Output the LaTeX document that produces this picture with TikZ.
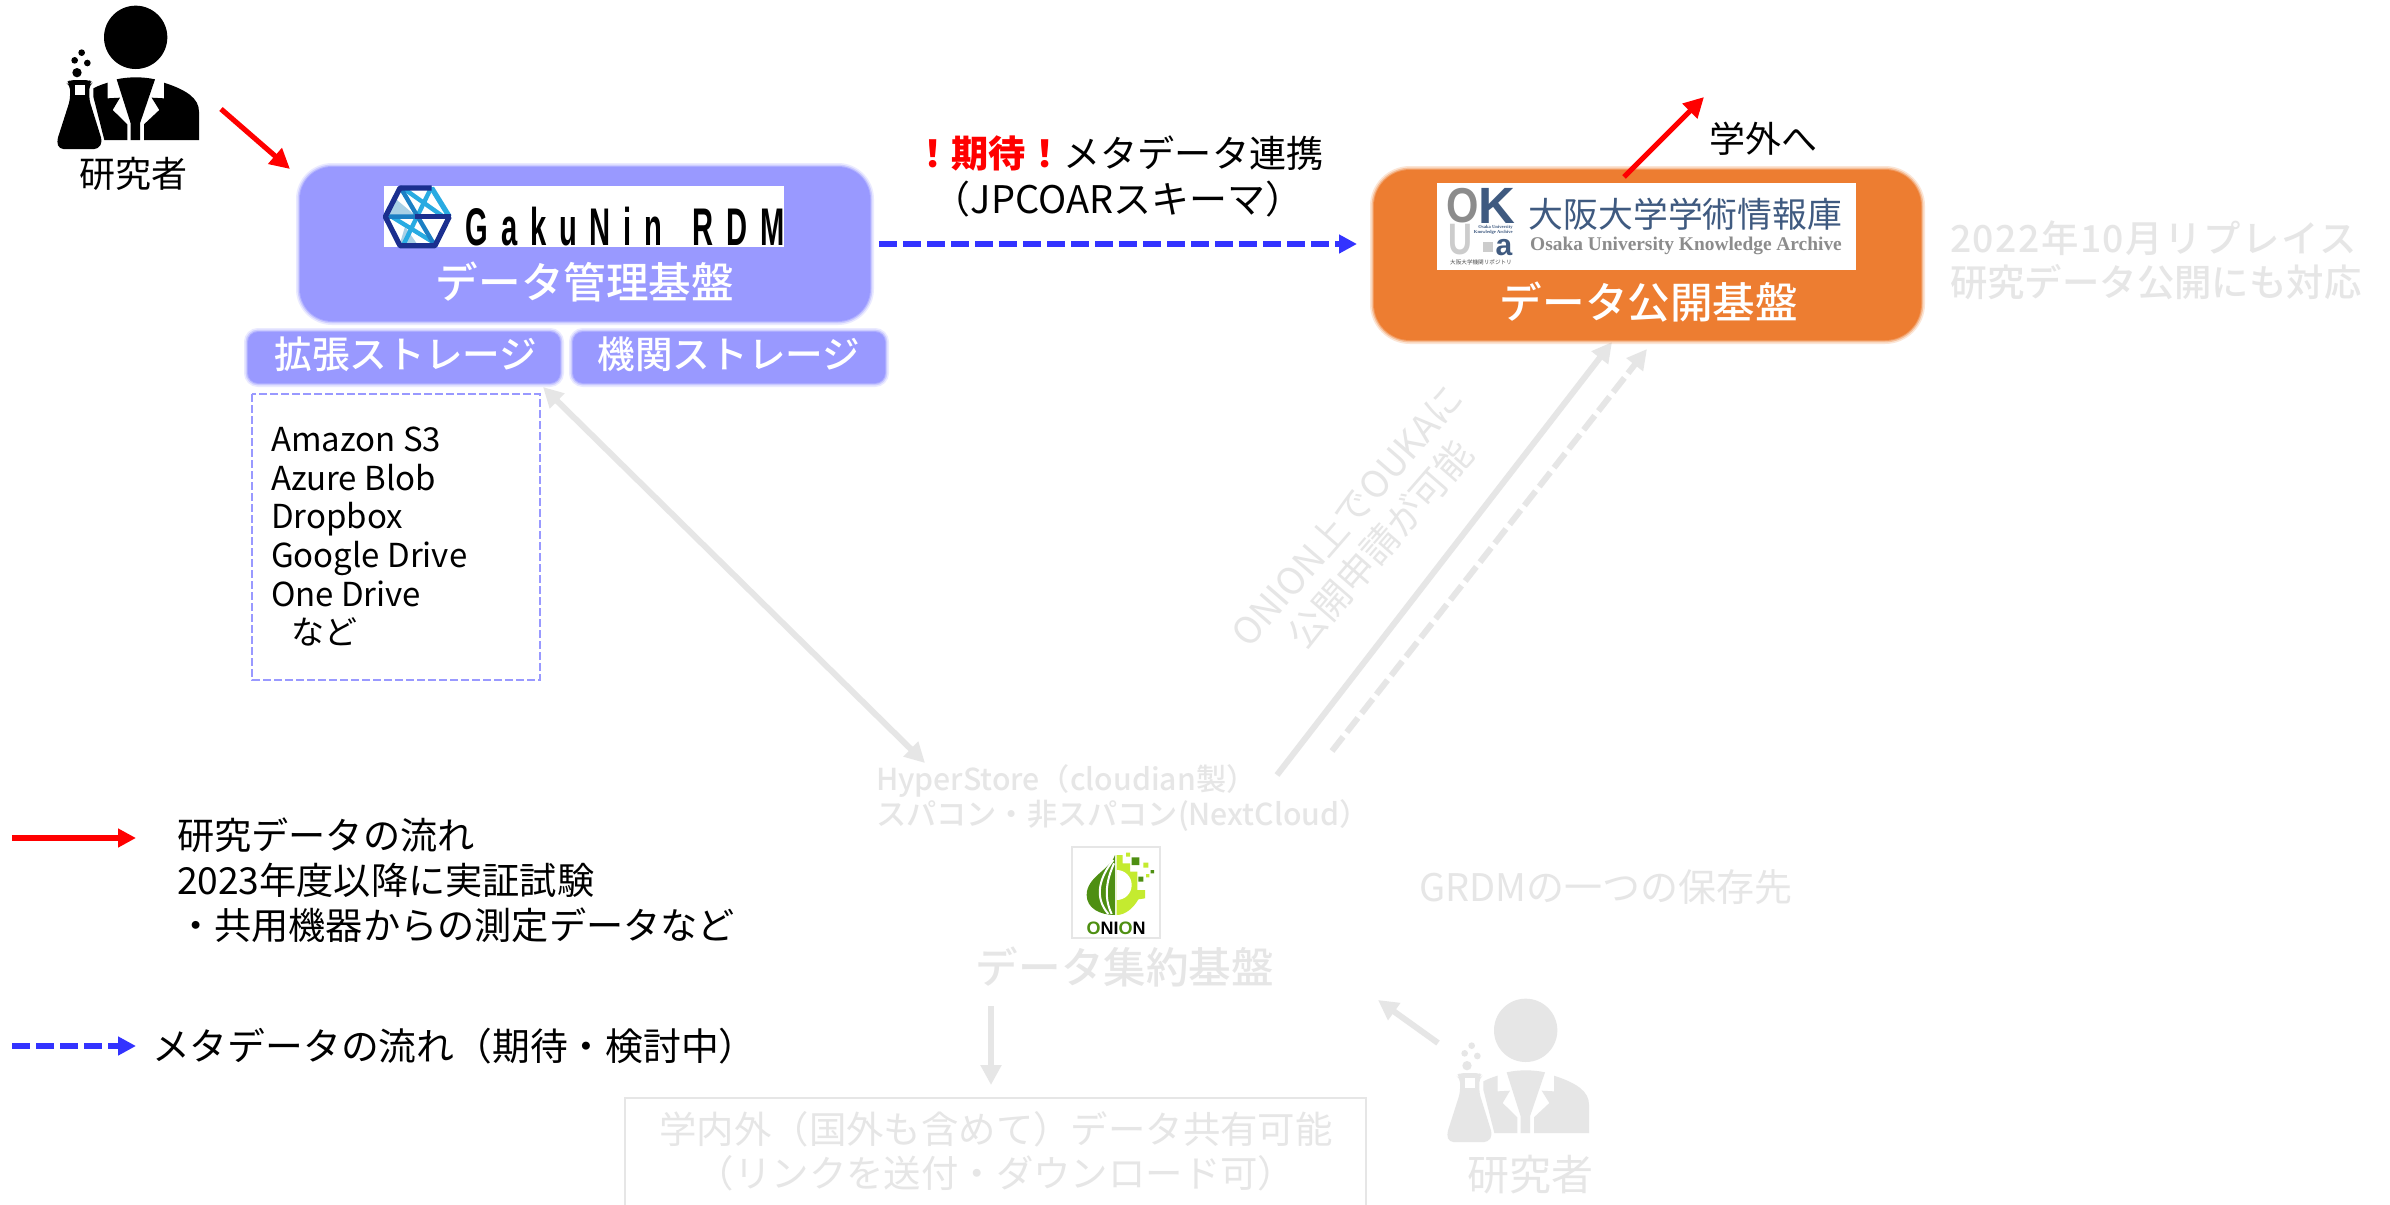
\documentclass[tikz,border=0pt]{standalone}
\usepackage{fontspec}
\usetikzlibrary{arrows.meta}
\setmainfont{Noto Sans CJK JP}
\newfontfamily\medfont{Noto Sans CJK JP Medium}
\newfontfamily\dinfont[FakeStretch=0.55,LetterSpace=24]{Liberation Sans}
\newfontfamily\arialfont{Liberation Sans}
\newfontfamily\timesfont{Liberation Serif}
\newcommand{\fsz}[2]{\fontsize{#1}{#2}\selectfont}
\definecolor{lav}{HTML}{9999FF}
\definecolor{org}{HTML}{ED7D31}
\definecolor{blu}{HTML}{3333FF}
\definecolor{fade}{HTML}{E6E6E6}
\definecolor{okblue}{HTML}{3F5A80}
\definecolor{okgray}{HTML}{8C8C8C}
\definecolor{leaf}{HTML}{4E8F12}
\definecolor{lime}{HTML}{C4EB2F}
\definecolor{hexdark}{HTML}{1B2F8F}
\definecolor{hexmed}{HTML}{1C7FC4}
\definecolor{hexlight}{HTML}{29ABE2}
\definecolor{hexpale}{HTML}{A8D0E6}
\tikzset{
  txt/.style={inner sep=0pt,outer sep=0pt,text=black},
  gtxt/.style={inner sep=0pt,outer sep=0pt,text=fade},
  wtxt/.style={inner sep=0pt,outer sep=0pt,text=white},
  redarrow/.style={draw=red,line width=2.6pt,-{Triangle[length=10pt,width=10pt]}},
  bluearrow/.style={draw=blu,line width=2.6pt,dash pattern=on 9pt off 3pt,-{Triangle[length=9pt,width=9pt]}},
  grayarrow/.style={draw=fade,line width=3pt,-{Triangle[length=10pt,width=10pt]}},
  graydash/.style={grayarrow,dash pattern=on 9pt off 3pt},
}
% researcher icon, drawn in 1/3-pixel units
\newcommand{\researcher}[3]{%
\begin{scope}[shift={(#1,#2)},x=0.16667pt,y=-0.16667pt]
  \fill[#3] (287,112) circle (95);
  \fill[#3] (160,265) .. controls (175,257) and (190,252) .. (203,248) -- (203,295) -- (240,293) -- (218,330) -- (262,373) -- (262,420) -- (193,420) -- (160,290) -- cycle;
  \fill[#3] (372,248) .. controls (440,270) and (477,295) .. (477,335) -- (477,420) -- (312,420) -- (312,373) -- (358,330) -- (335,293) -- (372,295) -- cycle;
  \fill[#3] (230,238) .. controls (265,230) and (310,230) .. (345,238) -- (300,370) -- (300,420) -- (272,420) -- (272,370) -- cycle;
  \fill[#3,rounded corners=2pt] (90,240) -- (78,248) -- (90,256) -- (90,300) -- (50,425) -- (58,447) -- (175,447) -- (187,425) -- (148,300) -- (148,256) -- (158,248) -- (148,240) -- cycle;
  \fill[white] (105,256) rectangle (135,285);
  \fill[#3] (111,218) circle (14) (104,181) circle (10) (142,189) circle (10) (125,158) circle (10);
\end{scope}}
\begin{document}
\begin{tikzpicture}[x=0.5pt,y=-0.5pt]
\useasboundingbox (0,0) rectangle (2390,1205);
\fill[white] (0,0) rectangle (2390,1205);

% --- faded layer ---
\coordinate (dbl1) at (543,387);
\coordinate (dbl2) at (925,763);
\draw[grayarrow,{Triangle[length=10pt,width=10pt]}-{Triangle[length=10pt,width=10pt]}] (dbl1) -- (dbl2);
\coordinate (up1s) at (1277,775);
\coordinate (up1e) at (1612,342);
\draw[grayarrow] (up1s) -- (up1e);
\coordinate (up2s) at (1332,751);
\coordinate (up2e) at (1647,349);
\draw[graydash] (up2s) -- (up2e);

\node[gtxt,rotate=49,align=center,font=\fsz{18.5pt}{22pt}] (apply) at (1364,530) {ONION上でOUKAに\\公開申請が可能};
\node[gtxt,anchor=west,align=left,font=\medfont\fsz{15.1pt}{17.8pt}] (store) at (876,798) {HyperStore（cloudian製）\\スパコン・非スパコン(NextCloud）};
\node[gtxt,font=\fsz{19pt}{22pt}] (grdm) at (1606,887) {GRDMの一つの保存先};
\node[gtxt,anchor=west,align=left,font=\medfont\fsz{18.7pt}{22pt}] (replace) at (1950,260) {{\addfontfeature{LetterSpace=4}2022年10月リプレイス}\\研究データ公開にも対応};
\node[gtxt,font=\medfont\fsz{21.3pt}{25pt}] (onionlbl) at (1125,967) {データ集約基盤};

\begin{scope}[shift={(1050,840)},x=0.16667pt,y=-0.16667pt]
  \draw[fade,line width=1pt] (65,22) rectangle (330,295);
  \fill[leaf] (195,45) .. controls (180,90) and (110,110) .. (110,165) .. controls (110,205) and (150,225) .. (195,225) -- cycle;
  \draw[white,line width=1pt] (190,60) .. controls (150,110) and (130,170) .. (175,222);
  \draw[white,line width=1pt] (192,70) .. controls (170,120) and (160,170) .. (185,222);
  \fill[lime] (200,45) -- (218,45) -- (218,70) -- (240,70) -- (240,95) -- (262,95) -- (262,150) -- (285,150) -- (285,175) -- (265,178) .. controls (250,205) and (225,225) .. (200,225) -- cycle;
  \fill[white] (200,90) .. controls (225,90) and (245,110) .. (245,135) .. controls (245,160) and (225,180) .. (200,180) -- cycle;
  \fill[leaf] (245,52) rectangle (268,75) (265,110) rectangle (280,125) (302,90) rectangle (312,100);
  \fill[lime] (228,38) rectangle (240,50) (280,68) rectangle (295,83) (288,102) rectangle (298,112);
\end{scope}
\node[inner sep=0pt,font=\arialfont\bfseries\fsz{9pt}{10pt}] (onionword) at (1116,928) {\textcolor{leaf}{O}\textcolor{black}{NI}\textcolor{leaf}{O}\textcolor{black}{N}};

\coordinate (dn1) at (991,1006);
\coordinate (dn2) at (991,1085);
\draw[grayarrow] (dn1) -- (dn2);
\draw[fade,line width=1.2pt] (625,1215) -- (625,1098) -- (1366,1098) -- (1366,1215);
\node[gtxt,align=center,font=\fsz{18.7pt}{22pt}] (share) at (996,1151) {学内外（国外も含めて）データ共有可能\\（リンクを送付・ダウンロード可）};
\coordinate (rs1) at (1438,1043);
\coordinate (rs2) at (1378,1000);
\draw[grayarrow] (rs1) -- (rs2);
\researcher{1430}{993}{fade}
\node[gtxt,font=\fsz{21pt}{24pt}] (res2) at (1530,1175) {研究者};

% --- top-left researcher ---
\researcher{40}{0}{black}
\node[txt,font=\fsz{18pt}{22pt}] (res1) at (133,174) {研究者};
\coordinate (ra1) at (221,109);
\coordinate (ra2) at (290,169);
\draw[redarrow] (ra1) -- (ra2);

% --- data-management block ---
\foreach \w/\o in {4/0.2,2.4/0.35,1/0.6}{
  \draw[lav,opacity=\o,line width=\w pt,rounded corners=16pt] (300,167) rectangle (870,321);
  \draw[lav,opacity=\o,line width=\w pt,rounded corners=5pt] (248,332) rectangle (560,383);
  \draw[lav,opacity=\o,line width=\w pt,rounded corners=5pt] (573,332) rectangle (885,383);
}
\fill[lav,rounded corners=16pt] (300,167) rectangle (870,321);
\fill[lav,rounded corners=5pt] (248,332) rectangle (560,383);
\fill[lav,rounded corners=5pt] (573,332) rectangle (885,383);
\fill[white] (384,186) rectangle (784,247);
\begin{scope}[shift={(360,160)},x=0.16667pt,y=-0.16667pt]
  \fill[hexpale] (105,115) -- (170,170) -- (85,170) -- cycle;
  \fill[hexpale] (135,200) -- (170,250) -- (120,250) -- cycle;
  \draw[hexlight,line width=2.2pt] (215,80) -- (130,255);
  \draw[hexlight,line width=2.2pt] (130,85) -- (250,170) (95,170) -- (225,250);
  \draw[hexmed,line width=2.2pt] (120,80) -- (225,258) (72,170) -- (165,170);
  \draw[hexlight,line width=2.6pt] (215,84) -- (268,170);
  \draw[hexdark,line width=2.6pt,line join=round] (215,84) -- (120,84) -- (76,170) -- (120,257) -- (225,257) -- (268,170);
  \draw[hexdark,line width=2.6pt] (165,170) -- (272,170);
\end{scope}
\node[inner sep=0pt,anchor=east,font=\dinfont\bfseries\fsz{26.5pt}{30pt}] (gakunin) at (785,227) {GakuNin\hspace{5pt} RDM};
\node[wtxt,font=\medfont\fsz{21.3pt}{25pt}] (dm) at (585,282) {データ管理基盤};
\node[wtxt,font=\medfont\fsz{18.8pt}{22pt}] (ext) at (406,354) {拡張ストレージ};
\node[wtxt,font=\medfont\fsz{18.8pt}{22pt}] (inst) at (729,354) {機関ストレージ};
\draw[lav,line width=1.1pt,dash pattern=on 4pt off 1.5pt] (252,394) rectangle (540,680);
\node[txt,anchor=north west,align=left,font=\fsz{16.5pt}{19.3pt}] (list) at (271,427) {Amazon S3\\Azure Blob\\Dropbox\\Google Drive\\One Drive\\\hspace{10pt}など};

% --- metadata link ---
\coordinate (mstart) at (879,244);
\coordinate (mend) at (1357,246);
\draw[bluearrow] (mstart) -- (mend |- mstart);
\node[txt,font=\fsz{18.6pt}{22pt}] (meta1) at (1119,153) {\textcolor{red}{\bfseries ！期待！}メタデータ連携};
\node[txt,font=\fsz{19pt}{22pt}] (meta2) at (1118,199) {（JPCOARスキーマ）};

% --- publication block ---
\foreach \w/\o in {4/0.2,2.4/0.35,1/0.6}{
  \draw[org,opacity=\o,line width=\w pt,rounded corners=18pt] (1374,170) rectangle (1921,340);
}
\fill[org,rounded corners=18pt] (1374,170) rectangle (1921,340);
\fill[white] (1437,183) rectangle (1856,270);
\node[inner sep=0pt,text=okgray,font=\arialfont\bfseries\fsz{24.5pt}{26pt}] (okO) at (1463,206) {\scalebox{0.85}[1]{O}};
\node[inner sep=0pt,text=okblue,font=\arialfont\bfseries\fsz{25.5pt}{26pt}] (okK) at (1497,206) {K};
\node[inner sep=0pt,text=black!20,font=\arialfont\bfseries\fsz{22pt}{23pt}] (okU) at (1460,240) {\scalebox{0.75}[1]{U}};
\fill[black!20] (1483,242) rectangle (1493,252);
\node[inner sep=0pt,text=okblue,font=\arialfont\bfseries\fsz{15pt}{16pt}] (oka) at (1504,248) {a};
\node[inner sep=0pt,anchor=east,align=right,text=okblue,font=\timesfont\bfseries\fsz{2.3pt}{2.6pt}] (oktiny) at (1513,230) {Osaka University\\Knowledge Archive};
\node[inner sep=0pt,text=black!70,font=\fsz{2.8pt}{3pt}] (okrepo) at (1481,262) {大阪大学機関リポジトリ};
\node[inner sep=0pt,text=okblue,font=\fsz{17.4pt}{20pt}] (okjp) at (1685.5,214) {大阪大学学術情報庫};
\node[inner sep=0pt,text=okgray,font=\timesfont\bfseries\fsz{9.7pt}{11pt}] (oken) at (1686,246) {Osaka University Knowledge Archive};
\node[wtxt,font=\medfont\fsz{21.3pt}{25pt}] (pub) at (1649,302) {データ公開基盤};
\coordinate (ou1) at (1624,177);
\coordinate (ou2) at (1704,97);
\draw[redarrow] (ou1) -- (ou2);
\node[txt,font=\fsz{18pt}{22pt}] (outside) at (1763.5,139) {学外へ};

% --- legend ---
\coordinate (lr1) at (12,838);
\coordinate (lr2) at (136,838);
\draw[redarrow,-{Triangle[length=9pt,width=9pt]}] (lr1) -- (lr2);
\node[txt,anchor=west,align=left,font=\fsz{18.6pt}{22.5pt}] (lg1) at (177,880.5) {研究データの流れ\\2023年度以降に実証試験\\・共用機器からの測定データなど};
\coordinate (lb1) at (12,1046);
\coordinate (lb2) at (136,1046);
\draw[bluearrow] (lb1) -- (lb2);
\node[txt,anchor=west,font=\fsz{18.9pt}{22pt}] (lg2) at (152,1046) {メタデータの流れ（期待・検討中）};
\end{tikzpicture}
\end{document}
